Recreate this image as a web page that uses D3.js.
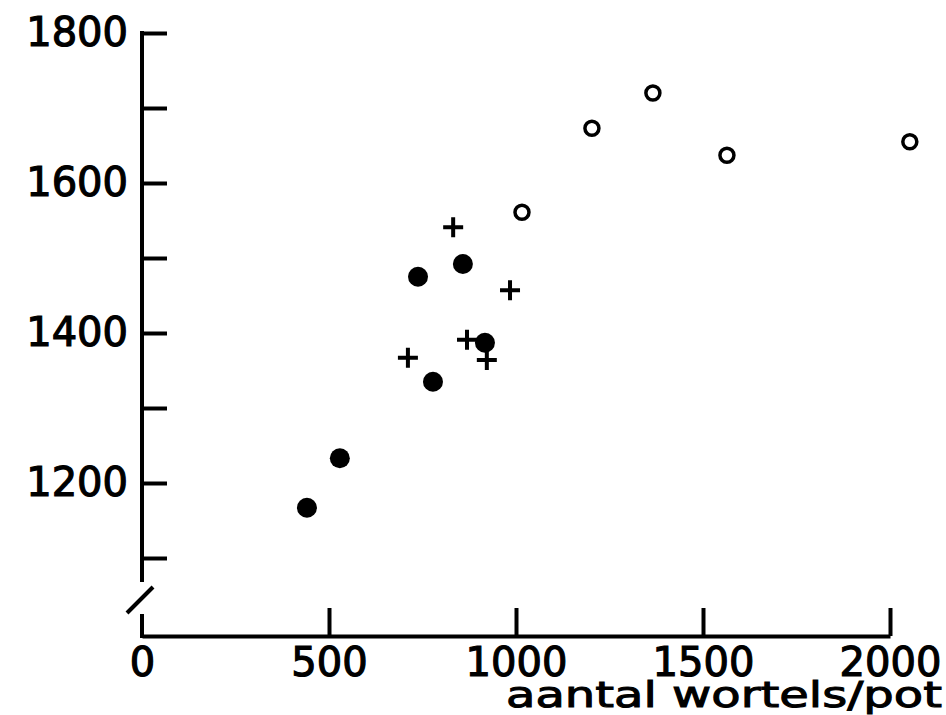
<!DOCTYPE html>
<html>
<head>
<meta charset="UTF-8">
<title>aantal wortels/pot</title>
<script src="https://cdn.jsdelivr.net/npm/d3@7/dist/d3.min.js"></script>
<style>
  body { margin: 0; background: #fff; }
  svg { display: block; }
  .axis text { font-family: "DejaVu Sans", sans-serif; fill: #000; stroke: #000; stroke-width: 1.2px; }
  .axis line, .axis path { stroke: #000; stroke-width: 4; }
</style>
</head>
<body>
<div id="graphe"></div>
<script>
// waarden
var dichtX = [441, 529, 738, 858, 917, 778];
var dichtY = [1167, 1233, 1475, 1492, 1387, 1335];

var kruisX = [832, 984, 869, 711, 922];
var kruisY = [1541, 1457, 1391, 1367, 1364];

var openX = [1016, 1203, 1366, 1564, 2053];
var openY = [1561, 1673, 1720, 1637, 1655];

var xTicks = [0, 500, 1000, 1500, 2000];
var yTicks = [1100, 1200, 1300, 1400, 1500, 1600, 1700, 1800];
var yLabels = [1200, 1400, 1600, 1800];
var xTitel = "aantal wortels/pot";

var width = 946, height = 715;
var xAsY = 636;   // x-as ligt onder de asbreuk

var svg = d3.select("#graphe").append("svg")
    .attr("width", width)
    .attr("height", height);

var x = d3.scaleLinear().domain([0, 2000]).range([142, 890]);
var y = d3.scaleLinear().domain([1100, 1800]).range([558, 33]);

// y-as (boven de breuk)
var yAxis = d3.axisLeft(y)
    .tickValues(yTicks)
    .tickSize(-25)
    .tickSizeOuter(0)
    .tickPadding(14)
    .tickFormat(function(d) { return yLabels.indexOf(d) >= 0 ? d : ""; });

var gy = svg.append("g")
    .attr("class", "axis")
    .attr("transform", "translate(" + x(0) + ",0)")
    .call(yAxis);
gy.select(".domain").remove();
gy.append("line")
    .attr("x1", 0).attr("x2", 0)
    .attr("y1", y(1800) - 2).attr("y2", y(1068));
gy.selectAll("text")
    .attr("font-size", 40)
    .attr("dy", "0.3em");

// x-as
var xAxis = d3.axisBottom(x)
    .tickValues(xTicks)
    .tickSize(-28)
    .tickSizeOuter(0)
    .tickPadding(12)
    .tickFormat(d3.format("d"));

var gx = svg.append("g")
    .attr("class", "axis")
    .attr("transform", "translate(0," + xAsY + ")")
    .call(xAxis);
gx.selectAll("text")
    .attr("font-size", 40);
gx.select(".tick line").remove();

// kort stuk y-as onder de breuk, en de breukstreep
svg.append("line")
    .attr("x1", x(0)).attr("x2", x(0))
    .attr("y1", xAsY - 22).attr("y2", xAsY + 2)
    .attr("stroke", "#000").attr("stroke-width", 4);
svg.append("line")
    .attr("x1", x(0) - 15).attr("y1", xAsY - 23)
    .attr("x2", x(0) + 11).attr("y2", xAsY - 49)
    .attr("stroke", "#000").attr("stroke-width", 4);

svg.append("text")
    .attr("x", 942)
    .attr("y", 707)
    .attr("text-anchor", "end")
    .attr("font-family", "DejaVu Sans, sans-serif")
    .attr("font-size", 36)
    .attr("stroke", "#000")
    .attr("stroke-width", 1)
    .attr("textLength", 436)
    .attr("lengthAdjust", "spacingAndGlyphs")
    .text(xTitel);

// punten
svg.append("g").selectAll("circle")
    .data(d3.range(dichtX.length))
    .enter().append("circle")
    .attr("cx", function(i) { return x(dichtX[i]); })
    .attr("cy", function(i) { return y(dichtY[i]); })
    .attr("r", 10)
    .attr("fill", "#000");

svg.append("g").selectAll("circle")
    .data(d3.range(openX.length))
    .enter().append("circle")
    .attr("cx", function(i) { return x(openX[i]); })
    .attr("cy", function(i) { return y(openY[i]); })
    .attr("r", 7)
    .attr("fill", "none")
    .attr("stroke", "#000")
    .attr("stroke-width", 3.5);

svg.append("g").selectAll("path")
    .data(d3.range(kruisX.length))
    .enter().append("path")
    .attr("d", function(i) {
      var cx = x(kruisX[i]), cy = y(kruisY[i]), s = 10;
      return "M" + (cx - s) + "," + cy + "H" + (cx + s) +
             "M" + cx + "," + (cy - s) + "V" + (cy + s);
    })
    .attr("stroke", "#000")
    .attr("stroke-width", 4);
</script>
</body>
</html>
